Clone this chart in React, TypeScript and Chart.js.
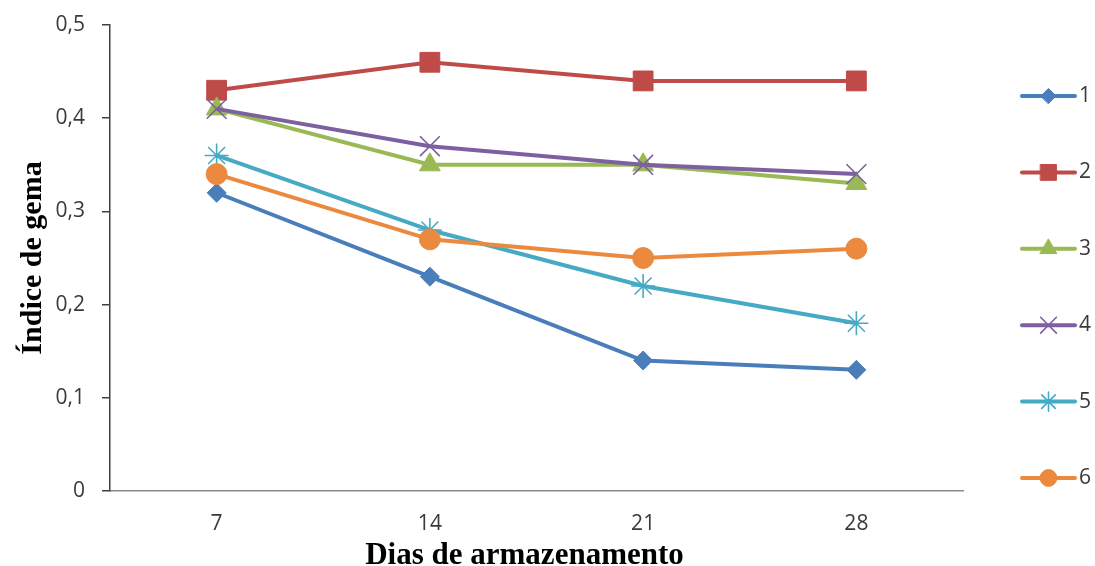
import React, { useEffect, useRef } from 'react';
import { Chart, registerables } from 'chart.js';
import { drawPoint } from 'chart.js/helpers';

Chart.register(...registerables);

// Storage days on the x axis
const DAYS = ['7', '14', '21', '28'];

// Yolk index per treatment
const SERIES_NAMES = ['1', '2', '3', '4', '5', '6'];
const T1 = [0.32, 0.23, 0.14, 0.13];
const T2 = [0.43, 0.46, 0.44, 0.44];
const T3 = [0.41, 0.35, 0.35, 0.33];
const T4 = [0.41, 0.37, 0.35, 0.34];
const T5 = [0.36, 0.28, 0.22, 0.18];
const T6 = [0.34, 0.27, 0.25, 0.26];
const SERIES_VALUES = [T1, T2, T3, T4, T5, T6];

const Y_TICK_LABELS = ['0', '0,1', '0,2', '0,3', '0,4', '0,5'];
const X_TITLE = 'Dias de armazenamento';
const Y_TITLE = 'Índice de gema';

const COLORS = ['#4A7EBB', '#BE4B48', '#98B954', '#7D60A0', '#46AAC5', '#EB8A3F'];
const POINT_STYLES = ['rectRot', 'rect', 'triangle', 'crossRot', 'star', 'circle'];
const POINT_RADII = [9.5, 14, 12, 14, 12, 10.5];
const POINT_BORDER = [1, 1, 1, 1.6, 1.6, 1];

const TICK_FONT = { family: '"Open Sans"', size: 21 };
const TEXT_COLOR = '#3a3a3a';

// Legend to the right of the plot: line segment, marker, then label
const sideLegend = {
  id: 'sideLegend',
  afterDraw(chart: any) {
    const { ctx, chartArea } = chart;
    const x0 = chartArea.right + 59;
    const x1 = chartArea.right + 112;
    const textX = chartArea.right + 116;
    const spacing = 76.4;
    const firstY = 96;
    chart.data.datasets.forEach((ds: any, i: number) => {
      const y = firstY + i * spacing;
      ctx.save();
      ctx.strokeStyle = ds.borderColor;
      ctx.lineWidth = 4;
      ctx.lineCap = 'round';
      ctx.beginPath();
      ctx.moveTo(x0, y);
      ctx.lineTo(x1, y);
      ctx.stroke();
      ctx.fillStyle = ds.pointBackgroundColor;
      ctx.strokeStyle = ds.pointBorderColor;
      ctx.lineWidth = ds.pointBorderWidth;
      drawPoint(
        ctx,
        {
          pointStyle: ds.pointStyle,
          rotation: 0,
          radius: ds.pointRadius * 0.8,
          borderWidth: ds.pointBorderWidth,
        } as any,
        (x0 + x1) / 2,
        y
      );
      ctx.fillStyle = TEXT_COLOR;
      ctx.font = `${TICK_FONT.size}px ${TICK_FONT.family}`;
      ctx.textAlign = 'left';
      ctx.textBaseline = 'middle';
      ctx.fillText(ds.label, textX, y);
      ctx.restore();
    });
  },
};

// X-axis title sitting on the bottom edge of the canvas
const xAxisTitle = {
  id: 'xAxisTitle',
  afterDraw(chart: any) {
    const { ctx, chartArea } = chart;
    ctx.save();
    ctx.fillStyle = '#000';
    ctx.font = 'bold 31px "Liberation Serif"';
    ctx.textAlign = 'center';
    ctx.textBaseline = 'alphabetic';
    ctx.fillText(X_TITLE, (chartArea.left + chartArea.right) / 2 - 12, 564);
    ctx.restore();
  },
};

export default function App() {
  const canvasRef = useRef<HTMLCanvasElement | null>(null);

  useEffect(() => {
    if (!canvasRef.current) return;
    const chart = new Chart(canvasRef.current, {
      type: 'line',
      data: {
        labels: DAYS,
        datasets: SERIES_VALUES.map((values, i) => ({
          label: SERIES_NAMES[i],
          data: values,
          borderColor: COLORS[i],
          backgroundColor: COLORS[i],
          borderWidth: 4,
          pointStyle: POINT_STYLES[i],
          pointRadius: POINT_RADII[i],
          pointBackgroundColor: COLORS[i],
          pointBorderColor: COLORS[i],
          pointBorderWidth: POINT_BORDER[i],
          tension: 0,
          order: SERIES_VALUES.length - 1 - i,
        })) as any,
      },
      options: {
        animation: false,
        responsive: false,
        events: [],
        layout: { autoPadding: false, padding: { top: 25, right: 132, bottom: 0, left: 0 } },
        plugins: {
          legend: { display: false },
          tooltip: { enabled: false },
        },
        scales: {
          x: {
            type: 'category',
            offset: true,
            grid: { display: false },
            border: { display: true, color: '#8A8A8A', width: 1.5 },
            ticks: { font: TICK_FONT, color: TEXT_COLOR, padding: 12 },
            afterFit: (s: any) => {
              s.height = 75;
            },
          },
          y: {
            min: 0,
            max: 0.5,
            ticks: {
              stepSize: 0.1,
              font: TICK_FONT,
              color: TEXT_COLOR,
              padding: 17,
              callback: (_v: any, idx: number) => Y_TICK_LABELS[idx],
            },
            grid: {
              drawOnChartArea: false,
              drawTicks: true,
              tickLength: 8,
              color: '#404040',
              lineWidth: 1.5,
            },
            border: { display: true, color: '#404040', width: 1.5 },
            title: {
              display: true,
              text: Y_TITLE,
              color: '#000',
              font: { family: 'Liberation Serif', size: 30, weight: 'bold', lineHeight: 1 },
              padding: { top: 18, bottom: 0 },
            },
            afterFit: (s: any) => {
              s.width = 110;
              s.paddingTop = 0;
              s.paddingBottom = 0;
            },
          },
        },
      } as any,
      plugins: [sideLegend, xAxisTitle],
    });
    return () => chart.destroy();
  }, []);

  return (
    <div style={{ position: 'absolute', left: 0, top: 0, width: 1095, height: 566, background: '#fff' }}>
      <canvas ref={canvasRef} width={1095} height={566} />
    </div>
  );
}
